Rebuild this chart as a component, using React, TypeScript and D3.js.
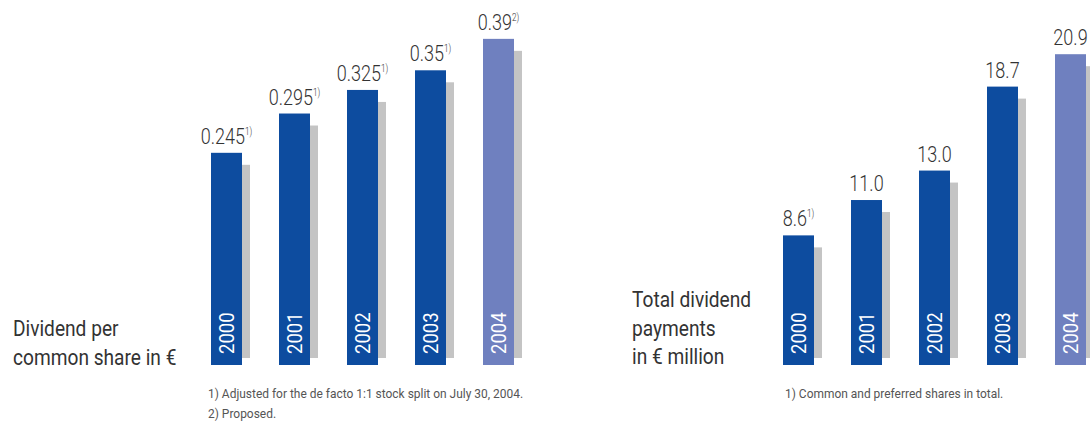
import React from "react";
import * as d3 from "d3";

const years = ["2000", "2001", "2002", "2003", "2004"];
const dividendPerShare = [0.245, 0.295, 0.325, 0.35, 0.39];
const dividendPerShareLabels = ["0.245", "0.295", "0.325", "0.35", "0.39"];
const dividendPerShareNotes = ["1)", "1)", "1)", "1)", "2)"];
const totalDividend = [8.6, 11.0, 13.0, 18.7, 20.9];
const totalDividendLabels = ["8.6", "11.0", "13.0", "18.7", "20.9"];
const totalDividendNotes = ["1)", "", "", "", ""];
const proposedYear = "2004";

const leftTitle = ["Dividend per", "common share in €"];
const rightTitle = ["Total dividend", "payments", "in € million"];
const leftFootnotes = ["1) Adjusted for the de facto 1:1 stock split on July 30, 2004.", "2) Proposed."];
const rightFootnotes = ["1) Common and preferred shares in total."];

const FONT = "Roboto, 'Liberation Sans', sans-serif";
const BLUE = "#0d4c9f";
const LIGHT = "#6f80bf";
const SHADOW = "#c4c4c4";
const TEXT = "#333333";
const BASE = 365;

type PanelProps = {
  values: number[];
  labels: string[];
  notes: string[];
  x0: number;
  domain: [number, number];
  top: number;
};

function Panel({ values, labels, notes, x0, domain, top }: PanelProps) {
  const x = d3
    .scaleBand<string>()
    .domain(years)
    .range([x0, x0 + 303])
    .paddingInner(37 / 68)
    .paddingOuter(0);
  const y = d3.scaleLinear().domain(domain).range([BASE, top]);
  const bw = x.bandwidth();
  return (
    <g>
      {years.map((yr, i) => {
        const bx = x(yr)!;
        const by = y(values[i]);
        return (
          <g key={yr}>
            <rect x={bx + 8} y={by + 12} width={bw} height={Math.max(0, BASE - 7 - (by + 12))} fill={SHADOW} />
            <rect x={bx} y={by} width={bw} height={BASE - by} fill={yr === proposedYear ? LIGHT : BLUE} />
            <text
              transform={`translate(${bx + bw / 2},${by - 9}) scale(0.82,1)`}
              textAnchor="middle"
              fontFamily={FONT}
              fontWeight={300}
              fontSize={22}
              fill={TEXT}
            >
              {labels[i]}
              {notes[i] ? (
                <tspan fontSize={10} dy={-9}>
                  {notes[i]}
                </tspan>
              ) : null}
            </text>
            <text
              transform={`translate(${bx + bw / 2 + 7},${BASE - 11}) rotate(-90) scale(0.88,1)`}
              fontFamily={FONT}
              fontSize={21}
              fill="#ffffff"
            >
              {yr}
            </text>
          </g>
        );
      })}
    </g>
  );
}

export default function App() {
  return (
    <svg
      width={1090}
      height={422}
      style={{ position: "absolute", left: 0, top: 0, background: "#ffffff" }}
    >
      <Panel
        values={dividendPerShare}
        labels={dividendPerShareLabels}
        notes={dividendPerShareNotes}
        x0={211}
        domain={[-0.025, 0.4]}
        top={31}
      />
      <Panel
        values={totalDividend}
        labels={totalDividendLabels}
        notes={totalDividendNotes}
        x0={783}
        domain={[-0.2, 22]}
        top={38}
      />
      {leftTitle.map((t, i) => (
        <text
          key={t}
          transform={`translate(13,${336 + i * 29}) scale(0.87,1)`}
          fontFamily={FONT}
          fontSize={22}
          fill={TEXT}
        >
          {t}
        </text>
      ))}
      {rightTitle.map((t, i) => (
        <text
          key={t}
          transform={`translate(632,${307 + i * 28.5}) scale(0.87,1)`}
          fontFamily={FONT}
          fontSize={22}
          fill={TEXT}
        >
          {t}
        </text>
      ))}
      {leftFootnotes.map((t, i) => (
        <text
          key={t}
          transform={`translate(208,${398 + i * 20}) scale(0.92,1)`}
          fontFamily={FONT}
          fontSize={13}
          fill="#555555"
        >
          {t}
        </text>
      ))}
      {rightFootnotes.map((t, i) => (
        <text
          key={t}
          transform={`translate(785,${398 + i * 20}) scale(0.92,1)`}
          fontFamily={FONT}
          fontSize={13}
          fill="#555555"
        >
          {t}
        </text>
      ))}
    </svg>
  );
}
